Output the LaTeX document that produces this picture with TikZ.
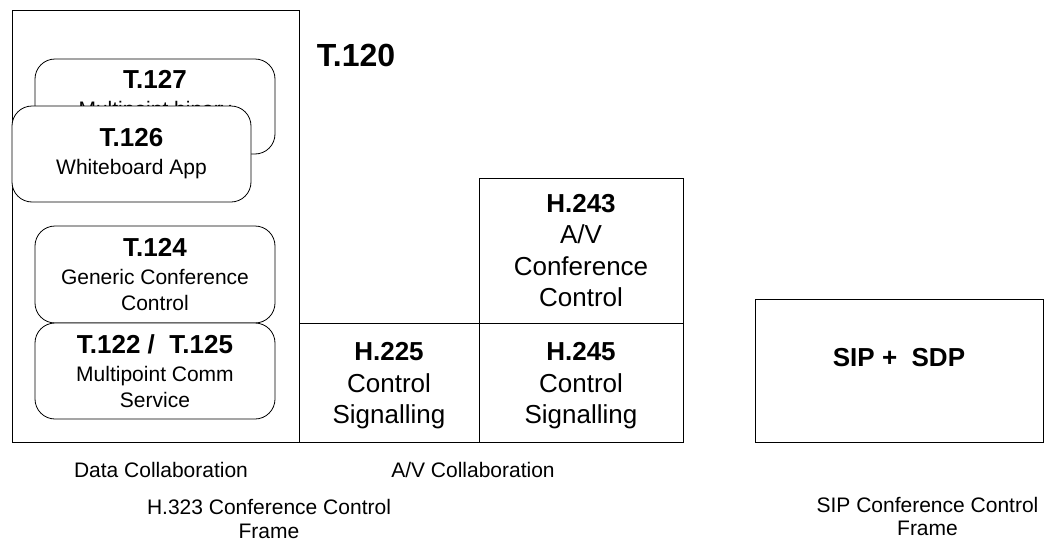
\documentclass[tikz,border=0pt]{standalone}
\usepackage{fontspec}
\setmainfont{Liberation Sans}
\newcommand\hdT{\fontsize{26}{28}\selectfont\bfseries}
\newcommand\ntT{\fontsize{21}{25.5}\selectfont\mdseries}
\newcommand\hdH{\fontsize{26}{31.5}\selectfont\bfseries}
\newcommand\ntH{\fontsize{26}{31.5}\selectfont\mdseries}
\newcommand\bigT{\fontsize{32}{36}\selectfont\bfseries}
\begin{document}
\begin{tikzpicture}[x=1pt,y=-1pt,
  box/.style={draw=black, line width=0.8pt, rectangle, inner sep=0pt, align=center},
  rbox/.style={box, rounded corners=20pt, fill=white, font=\ntT},
  hbox/.style={box, font=\ntH},
  lbl/.style={align=center, inner sep=0pt}]
\useasboundingbox (0,0) rectangle (1045,541);
% H.323 frame
\node[box, minimum width=287pt, minimum height=432pt] (frame) at (155.5,226) {};
\node[lbl, font=\bigT] (t120) at (356,55) {T.120};
% T.127 (partly hidden)
\node[rbox, minimum width=240pt, minimum height=95pt] (t127) at (155,106.5) {};
\node[lbl, anchor=north, font=\ntT] (t127txt) at (155,70.2) {{\hdT T.127}\\[2.5pt] Multipoint binary};
% T.126
\node[rbox, minimum width=239pt, minimum height=96pt] (t126) at (131.5,154)
  {{\hdT T.126}\\[2.5pt] Whiteboard App};
% T.124
\node[rbox, minimum width=240pt, minimum height=97pt] (t124) at (155,274.5)
  {{\hdT T.124}\\[2.5pt] Generic Conference\\ Control};
% T.122 / T.125
\node[rbox, minimum width=240pt, minimum height=96pt] (t122) at (155,371)
  {{\hdT T.122 /\ \ T.125}\\[2.5pt] Multipoint Comm\\ Service};
% H boxes
\node[hbox, minimum width=180pt, minimum height=119pt] (h225) at (389,382.5)
  {\rule{0pt}{25pt}{\hdH H.225}\\ Control\\ Signalling};
\node[hbox, minimum width=204pt, minimum height=119pt] (h245) at (581,382.5)
  {\rule{0pt}{25pt}{\hdH H.245}\\ Control\\ Signalling};
\node[hbox, minimum width=204pt, minimum height=145pt] (h243) at (581,250.5)
  {{\hdH H.243}\\ A/V\\ Conference\\ Control};
% SIP
\node[box, minimum width=288pt, minimum height=143pt] (sip) at (899,370.5) {};
\node[lbl, font=\hdH] (siptxt) at (899,357.5) {SIP +\ \ SDP};
% captions
\node[lbl, font=\ntT] (datacol) at (161,470) {Data Collaboration};
\node[lbl, font=\ntT] (avcol) at (473,470) {A/V Collaboration};
\node[lbl, font=\fontsize{21}{24}\selectfont] (h323) at (269,519) {H.323 Conference Control\\Frame};
\node[lbl, font=\fontsize{21}{23}\selectfont] (sipframe) at (927.5,516) {SIP Conference Control\\Frame};
\end{tikzpicture}
\end{document}
